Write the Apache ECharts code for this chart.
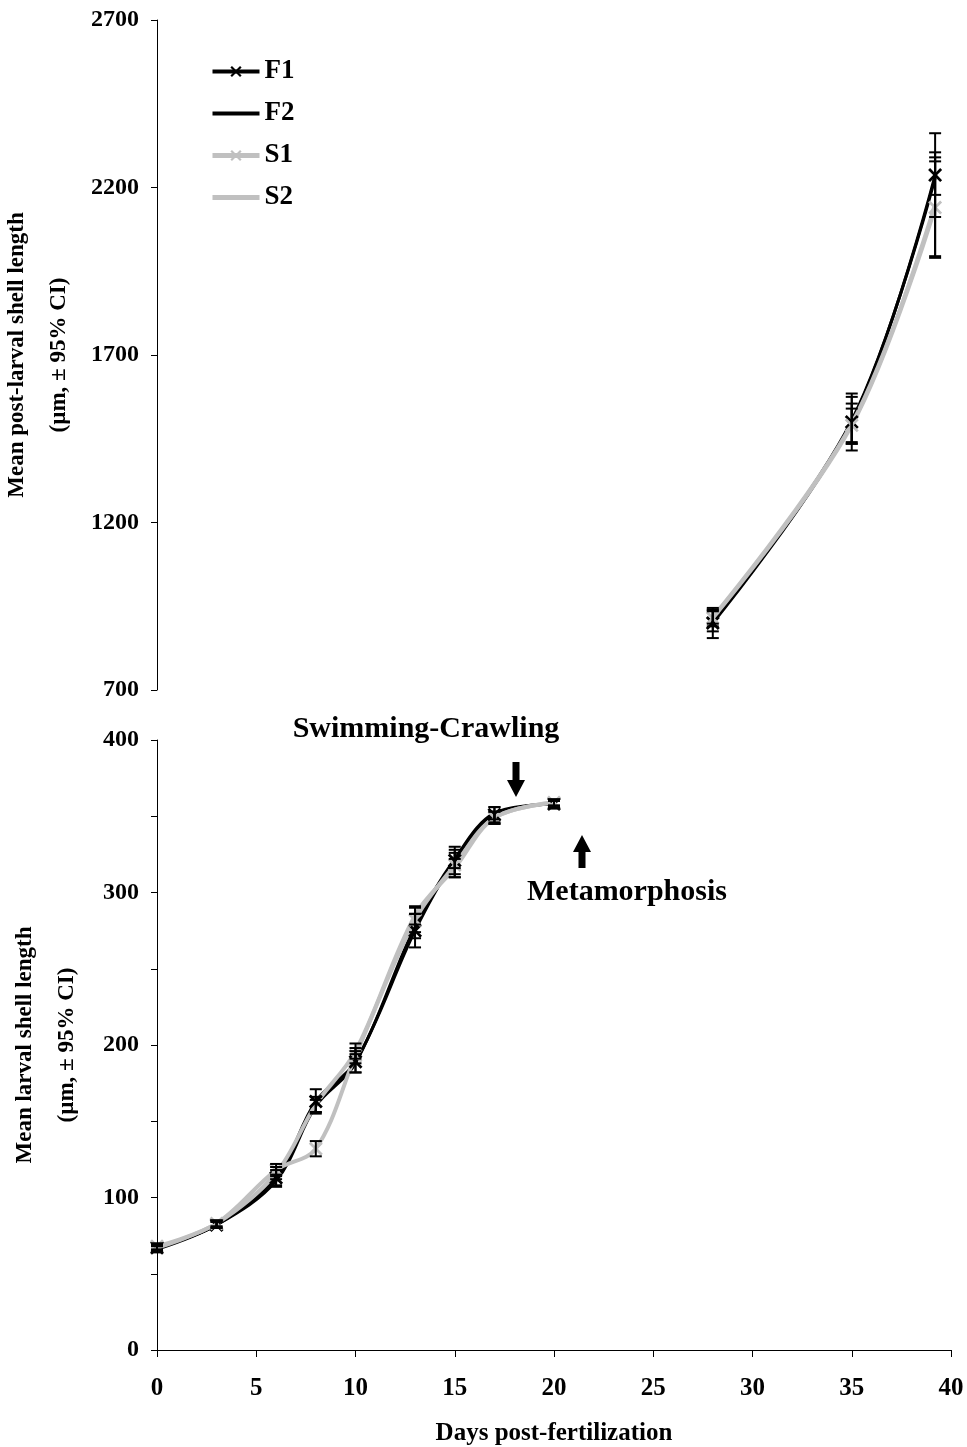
<!DOCTYPE html>
<html>
<head>
<meta charset="utf-8">
<script src="https://cdn.jsdelivr.net/npm/echarts@6/dist/echarts.min.js"></script>
<style>
html,body{margin:0;padding:0;background:#fff;}
#chart{width:967px;height:1447px;}
</style>
</head>
<body>
<div id="chart"></div>
<script>
// ---- data ----
const seriesNames = ['F1', 'F2', 'S1', 'S2'];

// larval phase (bottom panel)
const larvalDays = [0, 3, 6, 8, 10, 13, 15, 17, 20];
const larvalF1 = [67, 82, 113, 163, 189, 275, 321, 351, 358];
const larvalF2 = [66, 82, 111, 160, 188, 278, 322, 352, 358];
const larvalS1 = [68, 83, 118, 132, 193, 282, 318, 349, 359];
const larvalS2 = [67, 83, 116, 161, 196, 285, 316, 349, 359];
const larvalErrF1 = [2, 2, 5, 8, 7, 11, 9, 5, 3];
const larvalErrF2 = [2, 2, 4, 4, 6, 8, 6, 4, 2];
const larvalErrS1 = [2, 2, 4, 5, 5, 8, 8, 4, 2];
const larvalErrS2 = [2, 2, 4, 5, 5, 6, 6, 4, 2];

// post-larval phase (top panel)
const postDays = [28, 35, 39.2];
const postF1 = [900, 1500, 2237];
const postF2 = [905, 1505, 2228];
const postS1 = [915, 1490, 2140];
const postS2 = [918, 1495, 2150];
const postErrF1 = [45, 85, 125];
const postErrF2 = [30, 70, 50];
const postErrS1 = [25, 50, 150];
const postErrS2 = [20, 60, 155];

const topTicks = {min: 700, max: 2700, interval: 500};
const bottomTicks = {min: 0, max: 400, interval: 50, labelStep: 100};
const xTicks = {min: 0, max: 40, interval: 5};

// ---- styling ----
const FONT = '"Liberation Serif", "Times New Roman", serif';
const BLACK = '#000000';
const GRAY = '#c0c0c0';
const XSYM = 'path://M0,1.4 L1.4,0 L5,3.6 L8.6,0 L10,1.4 L6.4,5 L10,8.6 L8.6,10 L5,6.4 L1.4,10 L0,8.6 L3.6,5 Z';

const styles = {
  F1: {color: BLACK, width: 3, symbol: XSYM},
  F2: {color: BLACK, width: 3, symbol: 'none'},
  S1: {color: GRAY, width: 4, symbol: XSYM},
  S2: {color: GRAY, width: 4, symbol: 'none'}
};

const larval = {F1: [larvalF1, larvalErrF1], F2: [larvalF2, larvalErrF2], S1: [larvalS1, larvalErrS1], S2: [larvalS2, larvalErrS2]};
const post = {F1: [postF1, postErrF1], F2: [postF2, postErrF2], S1: [postS1, postErrS1], S2: [postS2, postErrS2]};

function pairs(days, vals) { return days.map((d, i) => [d, vals[i]]); }
function errs(days, vals, e) { return days.map((d, i) => [d, vals[i] - e[i], vals[i] + e[i]]); }

const series = [];
[[0, postDays, post], [1, larvalDays, larval]].forEach(([gi, days, set]) => {
  seriesNames.forEach(n => {
    const st = styles[n];
    series.push({
      name: n, type: 'line', xAxisIndex: gi, yAxisIndex: gi,
      data: pairs(days, set[n][0]),
      smooth: 0.35,
      symbol: st.symbol, symbolSize: 14, showSymbol: st.symbol !== 'none',
      lineStyle: {color: st.color, width: st.width},
      itemStyle: {color: st.color},
      emphasis: {disabled: true},
      z: 2
    });
  });
});
function errRender(params, api) {
  const x = api.value(0);
  const lo = api.coord([x, api.value(1)]);
  const hi = api.coord([x, api.value(2)]);
  const cw = 6;
  const st = {stroke: BLACK, lineWidth: 2};
  return {type: 'group', children: [
    {type: 'line', shape: {x1: lo[0], y1: lo[1], x2: hi[0], y2: hi[1]}, style: st},
    {type: 'line', shape: {x1: lo[0] - cw, y1: lo[1], x2: lo[0] + cw, y2: lo[1]}, style: st},
    {type: 'line', shape: {x1: hi[0] - cw, y1: hi[1], x2: hi[0] + cw, y2: hi[1]}, style: st}
  ]};
}
[[0, postDays, post], [1, larvalDays, larval]].forEach(([gi, days, set]) => {
  seriesNames.forEach(n => {
    series.push({
      type: 'custom', xAxisIndex: gi, yAxisIndex: gi,
      data: errs(days, set[n][0], set[n][1]),
      renderItem: errRender, encode: {x: 0, y: [1, 2]}, silent: true, z: 3
    });
  });
});

const labelStyle = {color: BLACK, fontFamily: FONT, fontWeight: 'bold', fontSize: 24, formatter: v => String(v)};
const nameStyle = {color: BLACK, fontFamily: FONT, fontWeight: 'bold', fontSize: 23, lineHeight: 42};

function arrow(cx, yTop, yBot, down) {
  const sw = 3.5, hw = 9, hh = 17;
  let pts;
  if (down) {
    pts = [[cx - sw, yTop], [cx + sw, yTop], [cx + sw, yBot - hh], [cx + hw, yBot - hh], [cx, yBot], [cx - hw, yBot - hh], [cx - sw, yBot - hh]];
  } else {
    pts = [[cx - sw, yBot], [cx + sw, yBot], [cx + sw, yTop + hh], [cx + hw, yTop + hh], [cx, yTop], [cx - hw, yTop + hh], [cx - sw, yTop + hh]];
  }
  return {type: 'polygon', shape: {points: pts}, style: {fill: BLACK}};
}

const legendLine = {F1: 4, F2: 4, S1: 5, S2: 5};

const option = {
  animation: false,
  backgroundColor: '#ffffff',
  grid: [
    {left: 157, top: 20, width: 794, height: 670, containLabel: false, outerBoundsMode: 'none'},
    {left: 157, top: 740, width: 794, height: 610, containLabel: false, outerBoundsMode: 'none'}
  ],
  xAxis: [
    {type: 'value', gridIndex: 0, min: xTicks.min, max: xTicks.max, interval: xTicks.interval, show: false},
    {type: 'value', gridIndex: 1, min: xTicks.min, max: xTicks.max, interval: xTicks.interval,
      axisLine: {show: true, lineStyle: {color: BLACK, width: 1}},
      axisTick: {show: true, inside: false, length: 7, lineStyle: {color: BLACK}},
      splitLine: {show: false},
      axisLabel: Object.assign({}, labelStyle, {margin: 26, fontSize: 25}),
      name: 'Days post-fertilization', nameLocation: 'middle', nameGap: 71,
      nameTextStyle: {color: BLACK, fontFamily: FONT, fontWeight: 'bold', fontSize: 25}
    }
  ],
  yAxis: [
    {type: 'value', gridIndex: 0, min: topTicks.min, max: topTicks.max, interval: topTicks.interval,
      axisLine: {show: true, onZero: false, lineStyle: {color: BLACK, width: 1}},
      axisTick: {show: true, inside: false, length: 6, lineStyle: {color: BLACK}},
      splitLine: {show: false},
      axisLabel: Object.assign({}, labelStyle, {margin: 18}),
      name: 'Mean post-larval shell length\n(µm, ± 95% CI)', nameLocation: 'middle', nameGap: 69,
      nameTextStyle: nameStyle
    },
    {type: 'value', gridIndex: 1, min: bottomTicks.min, max: bottomTicks.max, interval: bottomTicks.interval,
      axisLine: {show: true, onZero: false, lineStyle: {color: BLACK, width: 1}},
      axisTick: {show: true, inside: false, length: 6, lineStyle: {color: BLACK}},
      splitLine: {show: false},
      axisLabel: Object.assign({}, labelStyle, {margin: 18, formatter: v => (v % bottomTicks.labelStep === 0 ? String(v) : '')}),
      name: 'Mean larval shell length\n(µm, ± 95% CI)', nameLocation: 'middle', nameGap: 69,
      nameTextStyle: nameStyle
    }
  ],
  legend: {
    data: seriesNames.map(n => ({
      name: n,
      lineStyle: {width: legendLine[n]},
      itemStyle: styles[n].symbol === 'none' ? {opacity: 0} : {}
    })),
    orient: 'vertical', left: 205, top: 53,
    itemWidth: 47, itemHeight: 14, itemGap: 15,
    textStyle: {color: BLACK, fontFamily: FONT, fontWeight: 'bold', fontSize: 27},
    selectedMode: false
  },
  graphic: [
    {type: 'text', style: {text: 'Swimming-Crawling', x: 426, y: 729, textAlign: 'center', textVerticalAlign: 'middle', fill: BLACK, font: 'bold 30px ' + FONT}},
    {type: 'text', style: {text: 'Metamorphosis', x: 627, y: 892, textAlign: 'center', textVerticalAlign: 'middle', fill: BLACK, font: 'bold 30px ' + FONT}},
    arrow(516, 762, 797, true),
    arrow(582, 835, 868, false)
  ],
  series: series
};

const chart = echarts.init(document.getElementById('chart'), null, {renderer: 'canvas'});
chart.setOption(option);
</script>
</body>
</html>
